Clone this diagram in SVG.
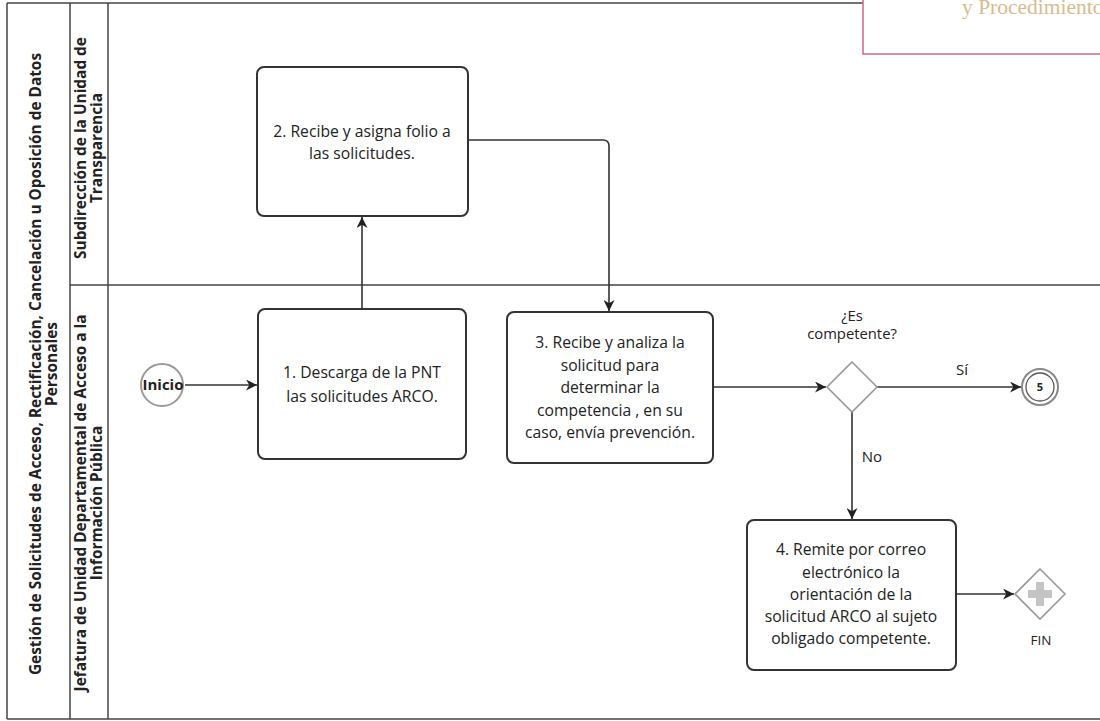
<svg xmlns="http://www.w3.org/2000/svg" width="1100" height="721" viewBox="0 0 1100 721">
<style>
.frame{fill:none;stroke:#444;stroke-width:1.5}
.task{fill:#fff;stroke:#333;stroke-width:2}
.t{font-family:"Open Sans","Noto Sans",sans-serif;font-size:15.7px;fill:#222;text-anchor:middle}
.lb{font-family:"Open Sans","Noto Sans",sans-serif;font-size:15.4px;font-weight:bold;fill:#222;text-anchor:middle}
.conn{fill:none;stroke:#333;stroke-width:1.6}
.gw{fill:#fff;stroke:#999;stroke-width:1.6}
</style>
<defs>
<marker id="arr" viewBox="0 0 10 10" markerWidth="11" markerHeight="11" refX="10" refY="5" orient="auto" markerUnits="userSpaceOnUse">
<path d="M0,0 L10,5 L0,10 L3,5 z" fill="#222"/>
</marker>
</defs>
<rect width="1100" height="721" fill="#fff"/>
<g id="pool">
<line x1="7" y1="3" x2="1100" y2="3" class="frame" stroke-width="2"/>
<line x1="7" y1="719" x2="1100" y2="719" class="frame"/>
<line x1="7" y1="3" x2="7" y2="719" class="frame"/>
<line x1="70" y1="3" x2="70" y2="719" class="frame"/>
<line x1="108" y1="3" x2="108" y2="719" class="frame"/>
<line x1="70" y1="285" x2="1100" y2="285" class="frame"/>
<text class="lb" transform="translate(41,364) rotate(-90)"><tspan x="0" y="0">Gestión de Solicitudes de Acceso, Rectificación, Cancelación u Oposición de Datos</tspan><tspan x="0" y="16">Personales</tspan></text>
</g>
<g id="lane1">
<text class="lb" transform="translate(86,148) rotate(-90)"><tspan x="0" y="0">Subdirección de la Unidad de</tspan><tspan x="0" y="16">Transparencia</tspan></text>
</g>
<g id="lane2">
<text class="lb" transform="translate(86,503) rotate(-90)"><tspan x="0" y="0">Jefatura de Unidad Departamental de Acceso a la</tspan><tspan x="0" y="16">Información Pública</tspan></text>
</g>
<g id="stamp">
<rect x="863" y="-2" width="260" height="56" fill="#fff" stroke="#c96a84" stroke-width="1.5"/>
<text x="962" y="14" font-family="Liberation Serif,serif" font-size="21.5" fill="#d8bb8e">y Procedimiento</text>
</g>
<g id="connectors">
<path class="conn" d="M185,385 H257" marker-end="url(#arr)"/>
<path class="conn" d="M362,309 V217" marker-end="url(#arr)"/>
<path class="conn" d="M468,140 H603 Q609,140 609,146 V311" marker-end="url(#arr)"/>
<path class="conn" d="M713,387 H826" marker-end="url(#arr)"/>
<path class="conn" d="M876,387 H1021" marker-end="url(#arr)"/>
<path class="conn" d="M852,412 V519" marker-end="url(#arr)"/>
<path class="conn" d="M956,594 H1014" marker-end="url(#arr)"/>
<text class="t" x="962" y="375" style="font-size:15px">Sí</text>
<text class="t" x="872" y="462" style="font-size:15px">No</text>
</g>
<g id="start">
<circle cx="162" cy="385" r="21" fill="#fff" stroke="#999" stroke-width="2"/>
<text class="lb" x="163" y="390" style="font-size:15px">Inicio</text>
</g>
<g id="task1">
<rect class="task" x="258" y="309" width="208" height="150" rx="7"/>
<text class="t" x="362" y="378">1. Descarga de la PNT</text>
<text class="t" x="362" y="402">las solicitudes ARCO.</text>
</g>
<g id="task2">
<rect class="task" x="257" y="67" width="211" height="149" rx="7"/>
<text class="t" x="362" y="137">2. Recibe y asigna folio a</text>
<text class="t" x="362" y="159">las solicitudes.</text>
</g>
<g id="task3">
<rect class="task" x="507" y="312" width="206" height="151" rx="7"/>
<text class="t" x="610" y="348">3. Recibe y analiza la</text>
<text class="t" x="610" y="371">solicitud para</text>
<text class="t" x="610" y="393">determinar la</text>
<text class="t" x="610" y="416">competencia , en su</text>
<text class="t" x="610" y="438">caso, envía prevención.</text>
</g>
<g id="gateway">
<path class="gw" d="M852,362 L877,387 L852,412 L827,387 Z"/>
<text class="t" x="852" y="321" style="font-size:14.8px">¿Es</text>
<text class="t" x="852" y="339" style="font-size:14.8px">competente?</text>
</g>
<g id="event5">
<circle cx="1040" cy="387" r="18" fill="#fff" stroke="#888" stroke-width="2"/>
<circle cx="1040" cy="387" r="14" fill="#fff" stroke="#555" stroke-width="1.3"/>
<text x="1040" y="391" font-family="Open Sans,sans-serif" font-size="11" font-weight="bold" fill="#222" text-anchor="middle">5</text>
</g>
<g id="task4">
<rect class="task" x="747" y="520" width="209" height="150" rx="7"/>
<text class="t" x="851" y="555">4. Remite por correo</text>
<text class="t" x="851" y="578">electrónico la</text>
<text class="t" x="851" y="600">orientación de la</text>
<text class="t" x="851" y="622">solicitud ARCO al sujeto</text>
<text class="t" x="851" y="644">obligado competente.</text>
</g>
<g id="fin">
<path class="gw" d="M1040,569 L1065,594 L1040,619 L1015,594 Z" stroke="#aaa"/>
<path d="M1036,582 H1044 V590 H1052 V598 H1044 V606 H1036 V598 H1028 V590 H1036 Z" fill="#c4c4c4"/>
<text x="1041" y="645" font-family="Open Sans,sans-serif" font-size="13.5" fill="#222" text-anchor="middle">FIN</text>
</g>
</svg>
